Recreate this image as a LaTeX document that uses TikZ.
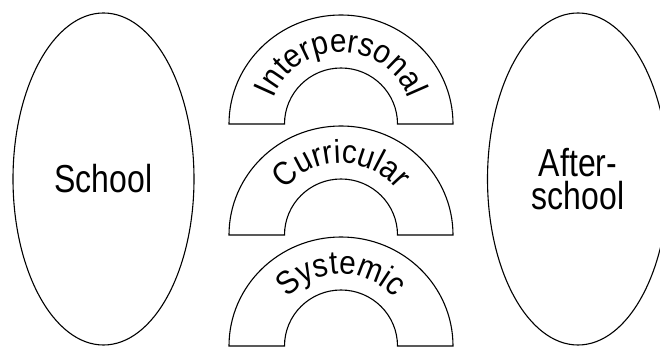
\documentclass[tikz,border=0pt]{standalone}
\usepackage{fontspec}
\setmainfont{Liberation Sans}[FakeStretch=0.82]
\newfontfamily\bandfont{Liberation Sans}[FakeStretch=0.9]
\usetikzlibrary{shapes.geometric,decorations.text}

\begin{document}
\begin{tikzpicture}[
    x=1pt, y=1pt,
    setting/.style={
        draw,
        ellipse,
        line width=1.1pt,
        minimum width=181pt,
        minimum height=332pt,
        inner sep=0pt,
        align=center,
        font=\fontsize{39}{33}\selectfont
    },
    band/.style={draw, line width=1.1pt},
    bandlabel/.style={
        decorate,
        decoration={text along path, text align=center,
            text={|\bandfont\fontsize{33}{33}\selectfont|#1}}
    }
]
    \useasboundingbox (0,0) rectangle (660,347);

    \node[setting] (school) at (103.5,168) {School};
    \node[setting] (afterschool) at (578,168) {After-\\school};

    \coordinate (interpersonal) at (341,223);
    \coordinate (curricular) at (341,112);
    \coordinate (systemic) at (341,1);

    % the three half rings between the two settings
    \draw[band] (interpersonal) ++(-112,0)
        arc[start angle=180, end angle=0, x radius=112, y radius=109]
        -- ++(-55.5,0)
        arc[start angle=0, end angle=180, x radius=56.5, y radius=56] -- cycle;
    \draw[band] (curricular) ++(-112,0)
        arc[start angle=180, end angle=0, x radius=112, y radius=109]
        -- ++(-55.5,0)
        arc[start angle=0, end angle=180, x radius=56.5, y radius=56] -- cycle;
    \draw[band] (systemic) ++(-112,0)
        arc[start angle=180, end angle=0, x radius=112, y radius=109]
        -- ++(-55.5,0)
        arc[start angle=0, end angle=180, x radius=56.5, y radius=56] -- cycle;

    \path[bandlabel=Interpersonal] (interpersonal) ++(-72,0)
        arc[start angle=180, end angle=0, radius=72];
    \path[bandlabel=Curricular] (curricular) ++(-72,0)
        arc[start angle=180, end angle=0, radius=72];
    \path[bandlabel=Systemic] (systemic) ++(-72,0)
        arc[start angle=180, end angle=0, radius=72];
\end{tikzpicture}
\end{document}
